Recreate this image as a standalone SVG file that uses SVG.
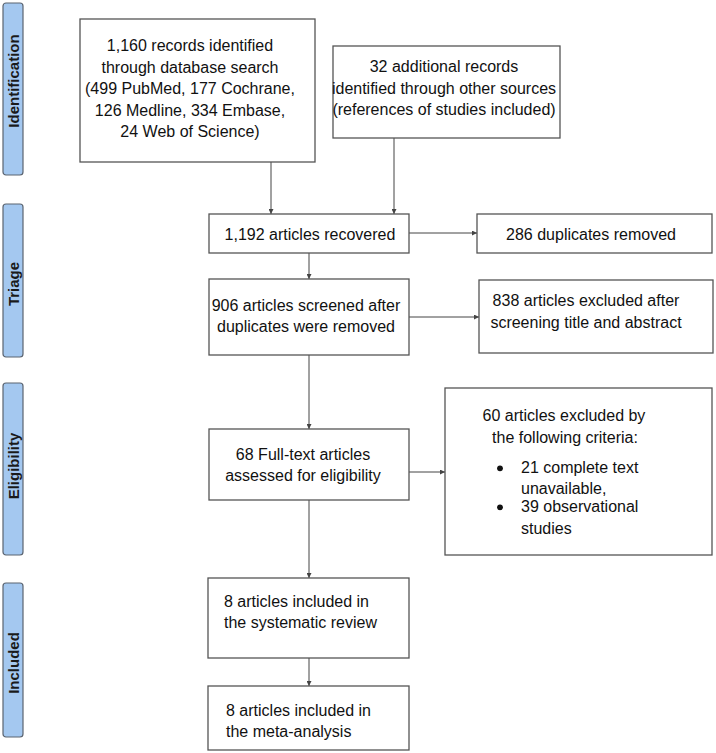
<svg xmlns="http://www.w3.org/2000/svg" width="716" height="753" viewBox="0 0 716 753">
<style>
.bg{fill:#ffffff}
.box{fill:#ffffff;stroke:#555555;stroke-width:1.3}
.bar{fill:#a4c8f0;stroke:#5b6470;stroke-width:1.2}
.t{font-family:"Liberation Sans",Arial,sans-serif;font-size:16px;fill:#111111}
.c{text-anchor:middle}
.bt{font-family:"Liberation Sans",Arial,sans-serif;font-size:15px;font-weight:bold;fill:#1a1a1a;text-anchor:middle}
.ln{stroke:#444444;stroke-width:1;fill:none;marker-end:url(#ah)}
</style>
<defs>
<marker id="ah" viewBox="0 0 6 6" refX="6" refY="3" markerWidth="5" markerHeight="5" markerUnits="userSpaceOnUse" orient="auto">
<path d="M0,0 L6,3 L0,6 z" fill="#444444"/>
</marker>
</defs>
<rect class="bg" x="0" y="0" width="716" height="753"/>
<g id="phase-identification">
<rect class="bar" x="3" y="3" width="20" height="172" rx="3"/>
<text class="bt" transform="translate(18.5,81) rotate(-90)">Identification</text>
</g>
<g id="phase-triage">
<rect class="bar" x="3" y="204" width="20" height="153" rx="3"/>
<text class="bt" transform="translate(18.5,284) rotate(-90)">Triage</text>
</g>
<g id="phase-eligibility">
<rect class="bar" x="3" y="383" width="20" height="172" rx="3"/>
<text class="bt" transform="translate(18.5,466) rotate(-90)">Eligibility</text>
</g>
<g id="phase-included">
<rect class="bar" x="3" y="583" width="20" height="154" rx="3"/>
<text class="bt" transform="translate(18.5,663) rotate(-90)">Included</text>
</g>
<g id="connectors">
<line class="ln" x1="271" y1="162" x2="271" y2="214"/>
<line class="ln" x1="394" y1="138" x2="394" y2="214"/>
<line class="ln" x1="409" y1="233" x2="477" y2="233"/>
<line class="ln" x1="309" y1="253" x2="309" y2="279"/>
<line class="ln" x1="409" y1="317" x2="479" y2="317"/>
<line class="ln" x1="309" y1="355" x2="309" y2="429"/>
<line class="ln" x1="409" y1="472" x2="445" y2="472"/>
<line class="ln" x1="309" y1="500" x2="309" y2="578"/>
<line class="ln" x1="309" y1="658" x2="309" y2="686"/>
</g>
<g id="records-database">
<rect class="box" x="80" y="19" width="235" height="143"/>
<text class="t c" x="190" y="51">1,160 records identified</text>
<text class="t c" x="190" y="72.5">through database search</text>
<text class="t c" x="190" y="94">(499 PubMed, 177 Cochrane,</text>
<text class="t c" x="190" y="115.5">126 Medline, 334 Embase,</text>
<text class="t c" x="190" y="137">24 Web of Science)</text>
</g>
<g id="records-other">
<rect class="box" x="333" y="46" width="227" height="92"/>
<text class="t c" x="444" y="72">32 additional records</text>
<text class="t c" x="444" y="93.5">identified through other sources</text>
<text class="t c" x="444" y="115">(references of studies included)</text>
</g>
<g id="recovered">
<rect class="box" x="209" y="214" width="200" height="39"/>
<text class="t c" x="310" y="239.5">1,192 articles recovered</text>
</g>
<g id="duplicates">
<rect class="box" x="477" y="214" width="235" height="39"/>
<text class="t c" x="591" y="239.5">286 duplicates removed</text>
</g>
<g id="screened">
<rect class="box" x="209" y="279" width="200" height="76"/>
<text class="t c" x="306" y="310.5">906 articles screened after</text>
<text class="t c" x="306" y="332">duplicates were removed</text>
</g>
<g id="excluded-screening">
<rect class="box" x="479" y="280" width="234" height="73"/>
<text class="t c" x="586" y="306">838 articles excluded after</text>
<text class="t c" x="586" y="327.5">screening title and abstract</text>
</g>
<g id="fulltext">
<rect class="box" x="209" y="429" width="200" height="71"/>
<text class="t c" x="303" y="459.5">68 Full-text articles</text>
<text class="t c" x="303" y="481">assessed for eligibility</text>
</g>
<g id="excluded-criteria">
<rect class="box" x="445" y="388" width="267" height="167"/>
<text class="t c" x="564" y="421">60 articles excluded by</text>
<text class="t c" x="565" y="442.5">the following criteria:</text>
<circle cx="500" cy="468.3" r="2.9" fill="#111111"/>
<text class="t" x="521" y="473">21 complete text</text>
<text class="t" x="521" y="494">unavailable,</text>
<circle cx="500" cy="507.3" r="2.9" fill="#111111"/>
<text class="t" x="521" y="512">39 observational</text>
<text class="t" x="521" y="533.5">studies</text>
</g>
<g id="systematic-review">
<rect class="box" x="208" y="578" width="201" height="80"/>
<text class="t" x="224" y="607">8 articles included in</text>
<text class="t" x="224" y="628">the systematic review</text>
</g>
<g id="meta-analysis">
<rect class="box" x="208" y="686" width="201" height="64"/>
<text class="t" x="226" y="715.5">8 articles included in</text>
<text class="t" x="226" y="737">the meta-analysis</text>
</g>
</svg>
